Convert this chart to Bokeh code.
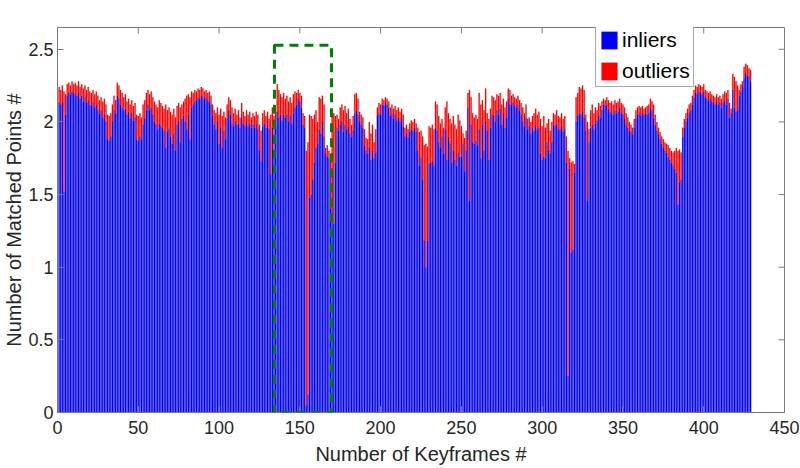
from bokeh.plotting import figure
from bokeh.models import (Range1d, FixedTicker, CustomJSTickFormatter,
                          BoxAnnotation, Legend, LegendItem, Label)
from bokeh.embed import file_html
from bokeh.resources import INLINE
import numpy as np

# ---- data (values in units of 10^4 matched points) ----
total = [
    2.24, 2.22, 2.25, 2.21, 2.19, 2.26, 2.27, 2.25, 2.28, 2.26,
    2.27, 2.25, 2.28, 2.24, 2.26, 2.23, 2.25, 2.22, 2.24, 2.21,
    2.20, 2.22, 2.19, 2.21, 2.18, 2.15, 2.17, 2.14, 2.16, 2.12,
    2.05, 2.04, 2.06, 2.12, 2.18, 2.15, 2.27, 2.25, 2.22, 2.20,
    2.17, 2.19, 2.14, 2.16, 2.12, 2.15, 2.11, 2.13, 2.05, 2.04,
    2.06, 2.03, 2.12, 2.15, 2.20, 2.22, 2.19, 2.21, 2.17, 2.14,
    2.12, 2.10, 2.15, 2.13, 2.11, 2.09, 2.12, 2.08, 2.10, 2.07,
    2.05, 2.09, 2.03, 2.11, 2.13, 2.10, 2.12, 2.14, 2.16, 2.18,
    2.19, 2.17, 2.21, 2.20, 2.22, 2.21, 2.23, 2.22, 2.24, 2.23,
    2.21, 2.22, 2.20, 2.21, 2.18, 2.12, 2.08, 2.06, 2.10, 2.05,
    2.09, 2.04, 2.07, 2.03, 2.12, 2.17, 2.15, 2.10, 2.06, 2.09,
    2.05, 2.08, 2.03, 2.13, 2.07, 2.04, 2.08, 2.05, 2.07, 2.03,
    2.06, 2.04, 2.07, 2.05, 1.98, 1.94, 2.06, 2.08, 2.04, 2.07,
    2.02, 2.05, 2.10, 2.04, 2.07, 2.26, 2.22, 2.19, 2.17, 2.20,
    2.16, 2.18, 2.14, 2.17, 2.13, 2.19, 2.21, 2.20, 2.22, 2.20,
    2.18, 2.06, 2.04, 1.80, 1.86, 2.05, 2.04, 2.02, 2.05, 2.08,
    2.00, 2.17, 2.16, 2.18, 2.12, 1.82, 1.84, 1.80, 1.78, 2.07,
    2.06, 2.04, 2.05, 2.02, 2.10, 2.12, 2.08, 2.11, 2.06, 2.09,
    2.02, 1.98, 2.04, 2.19, 2.20, 2.16, 2.07, 2.05, 2.03, 1.95,
    1.89, 1.88, 2.00, 1.92, 1.98, 1.86, 1.95, 2.10, 2.13, 2.12,
    2.16, 2.15, 2.17, 2.16, 2.14, 2.10, 2.12, 2.09, 2.11, 2.08,
    2.10, 2.07, 2.09, 2.05, 1.96, 1.98, 1.95, 1.99, 2.01, 2.00,
    2.02, 1.99, 1.96, 1.93, 1.94, 1.90, 1.84, 1.85, 1.83, 1.97,
    1.96, 1.98, 1.95, 2.14, 2.12, 2.04, 1.99, 2.02, 1.96, 2.10,
    2.14, 2.06, 2.02, 1.99, 2.04, 1.98, 1.95, 2.05, 2.01, 1.97,
    1.92, 1.89, 1.94, 2.20, 2.22, 2.17, 2.06, 2.03, 2.05, 2.02,
    2.20, 2.12, 2.15, 2.08, 2.23, 2.06, 2.02, 2.09, 2.18, 2.17,
    2.15, 2.19, 2.18, 2.20, 2.12, 2.16, 2.10, 2.14, 2.23, 2.22,
    2.18, 2.19, 2.17, 2.16, 2.18, 2.15, 2.13, 2.10, 2.06, 2.12,
    2.02, 2.03, 2.00, 2.04, 2.06, 2.09, 2.05, 2.07, 2.02, 1.97,
    2.04, 1.96, 1.99, 2.02, 1.94, 2.00, 2.06, 2.05, 2.08, 2.04,
    2.03, 2.06, 2.02, 2.04, 1.90, 1.80, 1.75, 1.72, 1.73, 1.71,
    2.17, 2.20, 2.24, 2.23, 2.25, 2.22, 2.05, 2.00, 1.95, 2.08,
    2.12, 2.06, 2.10, 2.08, 2.13, 2.11, 2.14, 2.16, 2.15, 2.17,
    2.15, 2.13, 2.14, 2.12, 2.15, 2.13, 2.14, 2.16, 2.13, 2.12,
    2.10, 2.06, 2.03, 2.00, 1.98, 1.96, 2.02, 2.08, 2.10, 2.11,
    2.10, 2.11, 2.09, 2.10, 2.11, 2.12, 2.16, 2.14, 2.12, 2.05,
    2.00, 1.96, 1.93, 1.90, 1.88, 1.86, 1.85, 1.84, 1.82, 1.80,
    1.79, 1.80, 1.82, 1.80, 1.81, 1.79, 1.96, 2.02, 2.06, 2.09,
    2.12, 2.13, 2.18, 2.22, 2.25, 2.24, 2.26, 2.25, 2.24, 2.26,
    2.22, 2.21, 2.20, 2.21, 2.19, 2.18, 2.17, 2.19, 2.17, 2.18,
    2.16, 2.19, 2.21, 2.20, 2.22, 2.13, 2.09, 2.33, 2.31, 2.28,
    2.25, 2.22, 2.26, 2.28, 2.38, 2.40, 2.39, 2.37, 2.36,
]
inliers = [
    2.13, 2.12, 2.14, 1.52, 2.05, 2.18, 2.20, 2.19, 2.21, 2.20,
    2.19, 2.18, 2.20, 2.16, 2.18, 2.14, 2.17, 2.13, 2.15, 2.12,
    2.11, 2.13, 2.10, 2.12, 2.08, 2.06, 2.08, 2.03, 2.05, 2.00,
    1.88, 1.87, 1.90, 2.00, 2.08, 2.06, 2.18, 2.16, 2.12, 2.10,
    2.08, 2.09, 2.05, 2.07, 2.02, 2.06, 2.01, 2.03, 1.88, 1.87,
    1.90, 1.88, 1.98, 2.02, 2.08, 2.12, 2.08, 2.10, 2.05, 2.00,
    1.98, 1.95, 1.99, 1.97, 1.96, 1.94, 1.82, 1.93, 1.95, 1.90,
    1.85, 1.92, 1.80, 1.98, 2.00, 1.86, 2.02, 2.04, 2.00, 1.95,
    2.05, 1.88, 2.10, 2.12, 2.14, 2.15, 2.17, 2.16, 2.18, 2.17,
    2.16, 2.17, 2.15, 2.14, 2.12, 2.04, 1.98, 1.95, 2.00, 1.85,
    1.96, 1.82, 1.94, 1.88, 2.02, 2.08, 2.05, 1.99, 1.97, 2.00,
    1.98, 1.99, 1.96, 2.03, 1.99, 1.97, 2.00, 1.97, 1.99, 1.96,
    1.98, 1.96, 1.99, 1.95, 1.80, 1.73, 1.97, 1.99, 1.96, 1.98,
    1.95, 1.64, 1.96, 1.80, 1.98, 2.07, 2.03, 2.05, 2.01, 2.05,
    2.03, 2.05, 2.00, 2.04, 1.99, 2.06, 2.10, 2.12, 2.16, 2.14,
    2.10, 1.98, 1.96, 0.05, 0.12, 1.48, 1.50, 1.60, 1.72, 1.82,
    1.85, 1.95, 1.92, 2.00, 1.90, 1.78, 1.76, 1.75, 1.40, 1.66,
    1.30, 1.72, 1.96, 1.94, 1.98, 2.00, 1.93, 1.98, 1.95, 1.97,
    1.92, 1.90, 1.94, 2.06, 2.08, 2.05, 2.00, 1.98, 1.96, 1.84,
    1.80, 1.78, 1.82, 1.74, 1.80, 1.75, 1.79, 2.04, 2.06, 2.05,
    2.12, 2.11, 2.13, 2.12, 2.10, 2.04, 2.06, 2.02, 2.05, 2.01,
    2.03, 2.00, 2.02, 1.97, 1.90, 1.92, 1.89, 1.93, 1.95, 1.94,
    1.96, 1.93, 1.80, 1.70, 1.75, 1.60, 1.18, 1.00, 1.18, 1.71,
    1.72, 1.73, 1.70, 1.96, 1.94, 1.86, 1.82, 1.90, 1.78, 1.95,
    1.74, 1.90, 1.85, 1.72, 1.80, 1.74, 1.70, 1.79, 1.76, 1.76,
    1.85, 1.66, 1.80, 2.10, 1.46, 1.98, 1.86, 1.85, 1.87, 1.84,
    1.95, 1.75, 1.98, 1.80, 2.00, 1.94, 1.74, 1.96, 2.05, 2.04,
    2.00, 2.08, 2.05, 2.09, 1.98, 2.06, 1.96, 2.03, 2.16, 2.12,
    2.12, 2.13, 2.11, 2.10, 2.12, 2.08, 2.05, 2.00, 1.97, 2.03,
    1.95, 1.97, 1.92, 1.96, 1.94, 1.97, 1.95, 1.96, 1.78, 1.74,
    1.76, 1.75, 1.86, 1.80, 1.78, 1.86, 1.98, 1.97, 1.99, 1.95,
    1.95, 1.97, 1.93, 1.95, 1.72, 0.25, 1.68, 1.10, 1.12, 1.65,
    2.00, 2.04, 2.06, 2.05, 2.07, 2.03, 1.94, 1.46, 1.86, 1.96,
    1.98, 1.95, 1.99, 2.01, 2.04, 2.03, 2.08, 2.12, 2.11, 2.12,
    2.09, 2.07, 2.06, 2.05, 2.08, 2.06, 2.07, 2.10, 2.06, 2.05,
    2.02, 1.98, 1.96, 1.94, 1.93, 1.91, 1.96, 2.02, 2.05, 2.06,
    2.04, 2.06, 2.05, 2.06, 2.05, 2.06, 2.10, 2.08, 2.02, 1.98,
    1.94, 1.91, 1.88, 1.85, 1.82, 1.80, 1.79, 1.76, 1.74, 1.72,
    1.70, 1.68, 1.65, 1.43, 1.58, 1.60, 1.90, 1.96, 2.00, 2.03,
    2.06, 2.08, 2.12, 2.17, 2.20, 2.19, 2.21, 2.20, 2.19, 2.21,
    2.17, 2.16, 2.15, 2.16, 2.14, 2.13, 2.12, 2.14, 2.12, 2.13,
    2.10, 2.13, 2.15, 2.12, 2.16, 2.03, 2.06, 2.22, 2.10, 2.07,
    2.08, 2.18, 2.21, 2.24, 2.30, 2.33, 2.32, 2.31, 2.28,
]
keyframes = list(range(1, len(total) + 1))

x_ticks = [0, 50, 100, 150, 200, 250, 300, 350, 400, 450]
y_ticks = [0, 0.5, 1, 1.5, 2, 2.5]
x_limits = [0, 450]
y_limits = [0, 2.65]
box_x = [134.3, 169.6]
box_y = [0, 2.527]

FONT = "Liberation Sans"
TXT = "#262626"
AX = "#7a7a7a"
FW, FH = 727, 385
TICK = 6

p = figure(frame_width=FW, frame_height=FH, output_backend="svg", toolbar_location=None,
           x_range=Range1d(*x_limits), y_range=Range1d(*y_limits),
           min_border_left=57, min_border_right=16, min_border_top=27, min_border_bottom=56)
p.background_fill_color = "white"
p.border_fill_color = "white"
p.outline_line_color = AX
p.outline_line_width = 1
p.grid.visible = False

x = np.array(keyframes)
tot = np.array(total)
inl = np.array(inliers)

r_in = p.vbar(x=x, width=0.75, bottom=0, top=inl, fill_color="#0000ff",
              line_color="#0000c8", line_width=0.15)
r_out = p.vbar(x=x, width=0.75, bottom=inl, top=tot, fill_color="#ff0000",
               line_color="#c00000", line_width=0.15)

p.xaxis.ticker = FixedTicker(ticks=x_ticks)
p.yaxis.ticker = FixedTicker(ticks=y_ticks)
p.yaxis.formatter = CustomJSTickFormatter(code="return tick.toString();")

for ax in list(p.xaxis) + list(p.yaxis):
    ax.axis_line_color = AX
    ax.major_tick_in = TICK
    ax.major_tick_out = 0
    ax.major_tick_line_color = AX
    ax.minor_tick_line_color = None
    ax.major_label_text_font = FONT
    ax.major_label_text_font_size = "18px"
    ax.major_label_text_color = TXT
    ax.axis_label_text_font = FONT
    ax.axis_label_text_font_size = "20px"
    ax.axis_label_text_font_style = "normal"
    ax.axis_label_text_color = TXT

p.xaxis.axis_label = "Number of Keyframes #"
p.yaxis.axis_label = "Number of Matched Points #"
p.xaxis.major_label_standoff = 8
p.xaxis.axis_label_standoff = 6
p.yaxis.major_label_standoff = 4
p.yaxis.axis_label_standoff = 0

# mirrored tick marks on top and right edges of the box
ty = TICK * (y_limits[1] - y_limits[0]) / FH
tx = TICK * (x_limits[1] - x_limits[0]) / FW
p.segment(x0=x_ticks, x1=x_ticks, y0=[y_limits[1]] * len(x_ticks),
          y1=[y_limits[1] - ty] * len(x_ticks), line_color=AX, line_width=1)
p.segment(x0=[x_limits[1]] * len(y_ticks), x1=[x_limits[1] - tx] * len(y_ticks),
          y0=y_ticks, y1=y_ticks, line_color=AX, line_width=1)

# highlighted region
p.add_layout(BoxAnnotation(left=box_x[0], right=box_x[1], bottom=box_y[0], top=box_y[1],
                           fill_alpha=0, line_color="#008000", line_alpha=1,
                           line_width=3, line_dash="9 6"))

# exponent label
p.add_layout(Label(x=x_limits[0], y=y_limits[1], text="×10", x_offset=0, y_offset=2,
                   text_baseline="bottom", text_font=FONT, text_font_size="19px", text_color=TXT))
p.add_layout(Label(x=x_limits[0], y=y_limits[1], text="4", x_offset=33, y_offset=10,
                   text_baseline="bottom", text_font=FONT, text_font_size="12px", text_color=TXT))

legend = Legend(items=[LegendItem(label="inliers", renderers=[r_in]),
                       LegendItem(label="outliers", renderers=[r_out])],
                location=(538, 325))
legend.label_text_font = FONT
legend.label_text_font_size = "21px"
legend.label_text_color = "black"
legend.glyph_width = 20
legend.glyph_height = 22
legend.label_height = 22
legend.spacing = 7
legend.padding = 3
legend.margin = 0
legend.label_standoff = 3
legend.border_line_color = "#555555"
legend.border_line_width = 1
legend.background_fill_color = "white"
legend.background_fill_alpha = 1
p.add_layout(legend)

open("out.html", "w").write(file_html(p, INLINE))
